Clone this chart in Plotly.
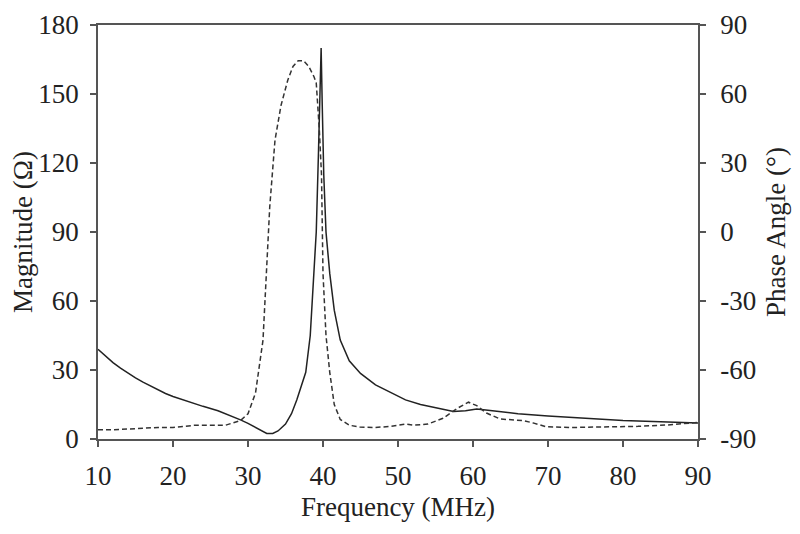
import plotly.graph_objects as go

freq_mag = [10, 10.5, 11, 12, 13, 14, 15, 16, 17, 18, 19, 20, 22, 24, 26, 28, 29, 30, 31, 32, 32.5, 33.3,
            34, 35, 35.8, 36.5, 37.1, 37.7, 38.3, 38.8, 39.1, 39.4, 39.6, 39.75, 39.9, 40.1, 40.4, 40.9,
            41.5, 42.3, 43.5, 45, 47, 49.4, 51, 53, 55, 57.4, 59, 60.5, 62, 64, 66, 70, 75, 80, 85, 90]
magnitude = [39, 37.5, 36, 33.2, 30.8, 28.6, 26.6, 24.7, 23, 21.3, 19.8, 18.5, 16.2, 14.2, 12.3, 9.8, 8.3,
             6.8, 5, 3, 2.4, 2.4, 3.5, 6.5, 11, 17, 23, 29, 45, 70, 90, 125, 150, 170, 145, 115, 90, 72,
             56, 43, 34, 28.5, 23.5, 19.5, 17, 15, 13.5, 12, 12.3, 13, 12.5, 11.8, 11, 10, 9, 8, 7.5, 7]

freq_phase = [10, 12, 15, 18, 20, 22, 23, 27, 28, 29, 30, 31, 32, 32.4, 32.9, 33.6, 34.4, 35.3, 36.0,
              36.7, 37.4, 38.1, 38.8, 39.1, 39.5, 39.8, 40.0, 40.4, 40.9, 41.5, 42.3, 43.5, 44.9, 47, 49,
              51, 52, 54, 56, 58, 59.4, 60.5, 61.8, 63.6, 66.7, 68, 69.8, 73, 77, 82, 86, 88, 90]
phase = [-86, -86, -85.5, -85, -85, -84.5, -84, -84, -83, -82, -79, -70, -47, -18, 11, 40, 55, 66, 72,
         74.5, 74.5, 72, 67.5, 64.8, 45, 25, -18, -45, -61, -75, -81.5, -84, -84.8, -85, -84.5, -83.5,
         -84, -83.5, -81, -76.5, -74, -75.5, -78.7, -81.3, -82, -83, -84.7, -85, -84.8, -84.5, -83.9,
         -83.2, -82.8]

x_ticks = [10, 20, 30, 40, 50, 60, 70, 80, 90]
mag_ticks = [0, 30, 60, 90, 120, 150, 180]
phase_ticks = [-90, -60, -30, 0, 30, 60, 90]
phase_tick_text = ["-90", "-60", "-30", "0", "30", "60", "90"]

FONT = "Liberation Serif"
TXT = "#222222"
AX = "#555555"
FS = 27

fig = go.Figure()
fig.add_trace(go.Scatter(x=freq_mag, y=magnitude, mode="lines",
                         line=dict(color="#222222", width=1.5), showlegend=False))
fig.add_trace(go.Scatter(x=freq_phase, y=phase, mode="lines", yaxis="y2",
                         line=dict(color="#333333", width=1.5, dash="5px,3px"), showlegend=False))

axis_common = dict(showgrid=False, zeroline=False, showline=True, linecolor=AX, linewidth=1.5,
                   ticks="outside", ticklen=6, tickcolor=AX, tickwidth=1.5, automargin=False,
                   tickfont=dict(family=FONT, size=FS, color=TXT))

# page body adds an 8px offset; size the figure so the plot area lands where the reference has it
fig.update_layout(
    width=792, height=526,
    margin=dict(l=90, r=102, t=17, b=95),
    paper_bgcolor="white", plot_bgcolor="white",
    font=dict(family=FONT, color=TXT),
    xaxis=dict(range=[10, 90], tickvals=x_ticks, mirror=True, ticklabelstandoff=6,
               title=dict(text="Frequency (MHz)", font=dict(family=FONT, size=FS, color=TXT), standoff=7),
               **axis_common),
    yaxis=dict(range=[0, 180], tickvals=mag_ticks, ticklabelstandoff=6,
               title=dict(text="Magnitude (Ω)", font=dict(family=FONT, size=FS, color=TXT), standoff=3),
               **axis_common),
    yaxis2=dict(range=[-90, 90], tickvals=phase_ticks, ticktext=phase_tick_text,
                overlaying="y", side="right", ticklabelstandoff=9,
                title=dict(text="Phase Angle (°)", font=dict(family=FONT, size=FS, color=TXT), standoff=11),
                **axis_common),
)

fig.write_html("out.html")
